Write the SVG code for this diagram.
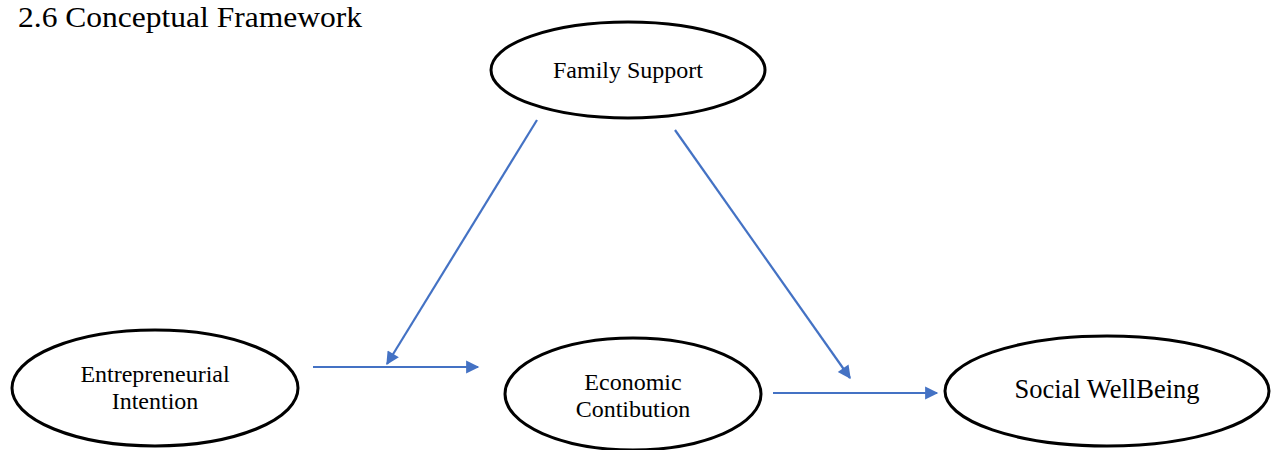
<svg xmlns="http://www.w3.org/2000/svg" width="1276" height="450" viewBox="0 0 1276 450">
  <style>
    .node ellipse { fill: #ffffff; stroke: #000000; stroke-width: 3; }
    .node text { font-family: "Liberation Serif", "Times New Roman", serif; font-size: 24px; fill: #000000; text-anchor: middle; }
    .edge { stroke: #4472C4; stroke-width: 2.2; fill: none; marker-end: url(#arrow); }
    .title { font-family: "Liberation Serif", "Times New Roman", serif; font-size: 30px; fill: #000000; }
  </style>
  <defs>
    <marker id="arrow" viewBox="0 0 10 10" refX="9" refY="5" markerWidth="7" markerHeight="6" markerUnits="strokeWidth" orient="auto">
      <path d="M0,0 L10,5 L0,10 z" fill="#4472C4"/>
    </marker>
  </defs>
  <rect width="1276" height="450" fill="#ffffff"/>

  <text class="title" x="18" y="27" textLength="344" lengthAdjust="spacingAndGlyphs">2.6 Conceptual Framework</text>

  <g id="connectors">
    <line class="edge" x1="313" y1="367" x2="478" y2="367"/>
    <line class="edge" x1="537" y1="120" x2="387" y2="364"/>
    <line class="edge" x1="675" y1="130" x2="850" y2="378"/>
    <line class="edge" x1="773" y1="393" x2="937" y2="393"/>
  </g>

  <g id="family-support" class="node">
    <ellipse cx="628" cy="70" rx="137" ry="48"/>
    <text x="628" y="78">Family Support</text>
  </g>

  <g id="entrepreneurial-intention" class="node">
    <ellipse cx="155" cy="388" rx="143" ry="58"/>
    <text x="155" y="382">Entrepreneurial</text>
    <text x="155" y="409">Intention</text>
  </g>

  <g id="economic-contibution" class="node">
    <ellipse cx="633" cy="394" rx="128" ry="56"/>
    <text x="633" y="390">Economic</text>
    <text x="633" y="417">Contibution</text>
  </g>

  <g id="social-wellbeing" class="node">
    <ellipse cx="1107" cy="391" rx="162" ry="55"/>
    <text x="1107" y="398" style="font-size:26.5px">Social WellBeing</text>
  </g>
</svg>
